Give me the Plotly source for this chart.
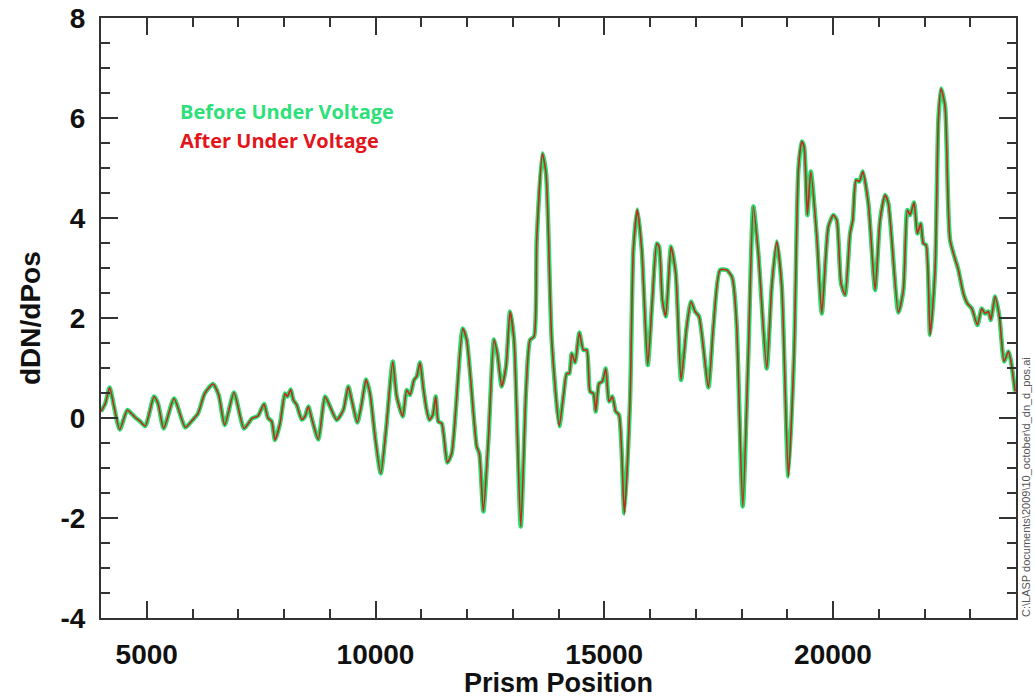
import plotly.graph_objects as go

prism_position = [
    4000, 4094, 4190, 4284, 4409, 4575, 4662, 4750, 4846, 4968, 5159, 5246, 5371, 5596, 5843, 5974,
    6120, 6267, 6448, 6573, 6704, 6907, 7126, 7301, 7432, 7563, 7651, 7731, 7804, 7913, 8022, 8073,
    8147, 8204, 8278, 8387, 8459, 8532, 8606, 8750, 8897, 9006, 9152, 9297, 9406, 9480, 9603, 9699,
    9793, 9880, 9990, 10114, 10230, 10377, 10464, 10595, 10683, 10755, 10842, 10901, 10973, 11045,
    11110, 11177, 11251, 11317, 11373, 11448, 11570, 11666, 11907, 11994, 12213, 12270, 12357, 12467,
    12591, 12663, 12759, 12853, 12941, 13028, 13175, 13291, 13378, 13466, 13524, 13647, 13728, 13852,
    14018, 14106, 14180, 14237, 14289, 14362, 14456, 14543, 14617, 14690, 14762, 14814, 14886, 14958,
    15033, 15105, 15177, 15251, 15323, 15439, 15564, 15636, 15724, 15820, 15951, 16051, 16148, 16198,
    16270, 16344, 16460, 16563, 16679, 16803, 16897, 16985, 17072, 17276, 17385, 17531, 17678, 17787,
    17822, 17896, 18027, 18150, 18259, 18368, 18552, 18661, 18771, 18880, 19024, 19149, 19243, 19317,
    19368, 19440, 19515, 19646, 19755, 19899, 20008, 20082, 20176, 20264, 20373, 20432, 20504, 20576,
    20651, 20773, 20920, 21029, 21138, 21210, 21429, 21538, 21626, 21685, 21772, 21844, 21918, 21975,
    22034, 22122, 22231, 22303, 22362, 22450, 22559, 22741, 22850, 22937, 23034, 23156, 23252, 23324,
    23396, 23449, 23543, 23637, 23740, 23834, 23886, 23980,
]

before_dn = [
    0.13, 0.29, 0.61, 0.23, -0.23, 0.16, 0.09, 0.01, -0.06, -0.16, 0.43, 0.29, -0.21, 0.39, -0.19, -0.07,
    0.09, 0.49, 0.68, 0.46, -0.14, 0.51, -0.21, -0.01, 0.04, 0.28, 0.00, -0.07, -0.44, -0.11, 0.49, 0.43,
    0.57, 0.36, 0.26, -0.03, 0.03, 0.23, -0.01, -0.43, 0.43, 0.23, -0.04, 0.16, 0.63, 0.36, -0.09, 0.29,
    0.77, 0.49, -0.37, -1.11, -0.24, 1.13, 0.43, 0.03, 0.56, 0.46, 0.76, 0.83, 1.11, 0.60,
    0.20, -0.04, 0.06, 0.43, -0.07, -0.11, -0.89, -0.71, 1.79, 1.56, -0.57, -0.71, -1.87, -0.44,
    1.57, 1.29, 0.63, 1.03, 2.13, 1.56, -2.17, 0.56, 1.56, 1.63, 3.56, 5.29, 4.89, 1.56,
    -0.16, 0.43, 0.89, 0.89, 1.29, 1.11, 1.71, 1.36, 1.36, 0.53, 0.49, 0.13, 0.69, 0.73,
    0.99, 0.33, 0.43, 0.13, 0.06, -1.91, 0.36, 3.36, 4.17, 3.36, 1.06, 2.36, 3.49, 3.43,
    2.36, 2.03, 3.43, 2.89, 0.76, 1.83, 2.33, 2.13, 2.03, 0.61, 1.83, 2.96, 2.96, 2.83,
    2.69, 1.83, -1.77, 1.29, 4.23, 3.29, 0.99, 2.63, 3.53, 2.63, -1.17, 1.29, 4.96, 5.53,
    5.43, 4.06, 4.93, 3.63, 2.09, 3.83, 4.06, 3.96, 2.69, 2.46, 3.69, 3.96, 4.76, 4.73,
    4.93, 4.29, 2.56, 3.96, 4.46, 4.29, 2.11, 2.56, 4.16, 4.06, 4.31, 3.69, 3.89, 3.49,
    3.46, 1.66, 2.96, 5.96, 6.59, 6.23, 3.56, 2.96, 2.49, 2.29, 2.19, 1.86, 2.19, 2.09,
    2.13, 1.96, 2.43, 2.03, 1.13, 1.33, 1.16, 0.53,
]

# After Under Voltage is visually indistinguishable from Before at this resolution
after_dn = list(before_dn)

x_ticks = [5000, 10000, 15000, 20000]
y_ticks = [-4, -2, 0, 2, 4, 6, 8]

GREEN = "#27dd6e"
RED = "#c8281c"
FONT = "Liberation Sans, Arial, sans-serif"
AXC = "#333333"

fig = go.Figure()
fig.add_trace(go.Scatter(
    x=prism_position, y=before_dn, mode="lines", name="Before Under Voltage",
    line=dict(color=GREEN, width=4.5, shape="spline", smoothing=0.6),
))
fig.add_trace(go.Scatter(
    x=prism_position, y=after_dn, mode="lines", name="After Under Voltage",
    line=dict(color=RED, width=1.6, shape="spline", smoothing=0.6),
))

axis_common = dict(
    showgrid=False, zeroline=False, showline=True, linecolor=AXC, linewidth=2,
    mirror="ticks", ticks="inside", tickcolor=AXC, tickwidth=2, ticklen=17,
    tickfont=dict(family=FONT, size=28, color="#111111", weight="bold"),
    automargin=False,
)

fig.update_xaxes(
    range=[4000, 24000], tickvals=x_ticks, ticktext=[str(v) for v in x_ticks],
    minor=dict(ticks="inside", dtick=1000, tick0=0, ticklen=9, tickwidth=2, tickcolor=AXC),
    ticklabelstandoff=10,
    **axis_common,
)
fig.update_yaxes(
    range=[-4.001, 8.001], tickvals=y_ticks, ticktext=[str(v) for v in y_ticks],
    minor=dict(ticks="inside", dtick=0.5, tick0=0, ticklen=9, tickwidth=2, tickcolor=AXC),
    ticklabelstandoff=8,
    **axis_common,
)

W, H = 1034, 698
L, R, T, B = 101, 18, 18, 80
pw, ph = W - L - R, H - T - B

fig.update_layout(
    width=W, height=H,
    margin=dict(l=L, r=R, t=T, b=B),
    paper_bgcolor="white", plot_bgcolor="white",
    showlegend=False,
)


def px(x):
    return (x - L) / pw


def py(y):
    return (H - B - y) / ph


fig.add_annotation(text="<b>Before Under Voltage</b>", x=px(178), y=py(111), xref="paper", yref="paper",
                   xanchor="left", yanchor="middle", showarrow=False,
                   font=dict(family="Open Sans, sans-serif", size=20, color="#2ee07a"))
fig.add_annotation(text="<b>After Under Voltage</b>", x=px(178), y=py(140), xref="paper", yref="paper",
                   xanchor="left", yanchor="middle", showarrow=False,
                   font=dict(family="Open Sans, sans-serif", size=20, color="#e3141b"))
fig.add_annotation(text="<b>Prism Position</b>", x=px(558), y=py(683), xref="paper", yref="paper",
                   xanchor="center", yanchor="middle", showarrow=False,
                   font=dict(family=FONT, size=27, color="#111111"))
fig.add_annotation(text="<b>dDN/dPos</b>", x=px(30), y=py(318), xref="paper", yref="paper",
                   xanchor="center", yanchor="middle", showarrow=False, textangle=-90,
                   font=dict(family=FONT, size=28, color="#111111"))
fig.add_annotation(text="C:\\LASP documents\\2009\\10_october\\d_dn_d_pos.ai", x=px(1026), y=py(487),
                   xref="paper", yref="paper", xanchor="center", yanchor="middle", showarrow=False,
                   textangle=-90, font=dict(family="Liberation Sans, Arial, sans-serif", size=11, color="#555555"))

fig.write_html("out.html", config={"displayModeBar": False},
               post_script="document.body.style.margin='0px';document.body.style.padding='0px';")
